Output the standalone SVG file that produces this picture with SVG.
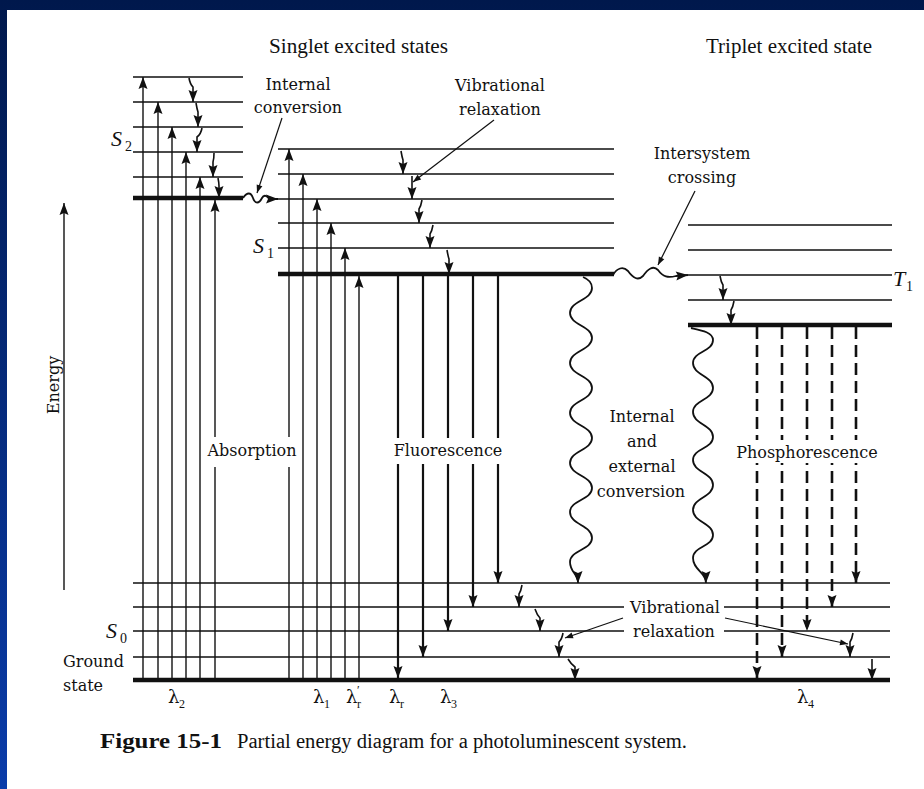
<svg xmlns="http://www.w3.org/2000/svg" width="924" height="789" viewBox="0 0 924 789">
<defs>
<linearGradient id="bg" x1="0" y1="0" x2="0" y2="1">
<stop offset="0" stop-color="#00184c"/>
<stop offset="1" stop-color="#0a3caa"/>
</linearGradient>
<marker id="ah" markerUnits="userSpaceOnUse" markerWidth="14" markerHeight="10" refX="12" refY="4.5" orient="auto" overflow="visible">
<path d="M0,0 L12,4.5 L0,9 L2,4.5 Z" fill="#111"/>
</marker>
<marker id="ahs" markerUnits="userSpaceOnUse" markerWidth="10" markerHeight="8" refX="8" refY="3" orient="auto" overflow="visible">
<path d="M0,0 L8,3 L0,6 Z" fill="#111"/>
</marker>
</defs>
<style>
.lv{stroke:#111;stroke-width:1.6;fill:none}
.th{stroke:#111;stroke-width:4.5;fill:none}
.ab{stroke:#111;stroke-width:1.4;fill:none;marker-end:url(#ah)}
.fl{stroke:#111;stroke-width:2.2;fill:none;marker-end:url(#ah)}
.ph{stroke:#111;stroke-width:2.6;stroke-dasharray:12 6;fill:none;marker-end:url(#ah)}
.rx{stroke:#111;stroke-width:1.6;fill:none;marker-end:url(#ah)}
.wv{stroke:#111;stroke-width:1.8;fill:none;marker-end:url(#ah)}
.ld{stroke:#111;stroke-width:1.2;fill:none;marker-end:url(#ahs)}
.ax{stroke:#111;stroke-width:1.4;fill:none;marker-end:url(#ah)}
text{font-family:"DejaVu Serif","Liberation Serif",serif;fill:#111}
.t{font-size:16px}
.mid{text-anchor:middle}
.h{font-family:"Liberation Serif",serif;font-size:20px}
.it{font-family:"Liberation Serif",serif;font-style:italic;font-size:22px}
.sub{font-family:"Liberation Serif",serif;font-size:14px}
.lam{font-family:"DejaVu Serif",serif;font-size:18px}
.ls{font-family:"Liberation Serif",serif;font-size:12px}
.cap{font-family:"Liberation Serif",serif;font-size:20px}
.capb{font-family:"Liberation Serif",serif;font-size:22px;font-weight:bold}
.wb{fill:#fff}
</style>

<rect x="0" y="0" width="924" height="789" fill="url(#bg)"/>
<rect x="7" y="10" width="917" height="779" fill="#fff"/>

<!-- Energy axis -->
<g id="energy-axis">
<path class="ax" d="M64,590 L64,203"/>
<text class="t mid" transform="translate(59,385) rotate(-90)">Energy</text>
</g>

<!-- Levels -->
<g id="S2">
<path class="lv" d="M133,77H243M133,102H243M133,127H243M133,152H243M133,177H243"/>
<path class="th" d="M133,198H243"/>
<text class="it" x="111" y="146">S</text><text class="sub" x="125" y="151">2</text>
</g>
<g id="S1">
<path class="lv" d="M278,149H614M278,174H614M278,199H614M278,223H614M278,248H614"/>
<path class="th" d="M278,274H614"/>
<text class="it" x="253" y="253">S</text><text class="sub" x="267" y="258">1</text>
</g>
<g id="T1">
<path class="lv" d="M688,225H892M688,250H892M688,275H892M688,300H892"/>
<path class="th" d="M688,325H892"/>
<text class="it" x="893" y="286">T</text><text class="sub" x="906" y="291">1</text>
</g>
<g id="S0">
<path class="lv" d="M133,583H890M133,607H890M133,631H890M133,657H890"/>
<path class="th" d="M133,680H890"/>
<text class="it" x="106" y="638">S</text><text class="sub" x="120" y="643">0</text>
<text class="t" x="63" y="667">Ground</text>
<text class="t" x="63" y="691">state</text>
</g>

<g id="connectors">
<!-- absorption -->
<path class="ab" d="M143,678V77"/>
<path class="ab" d="M158,678V102"/>
<path class="ab" d="M172,678V127"/>
<path class="ab" d="M186,678V152"/>
<path class="ab" d="M200,678V177"/>
<path class="ab" d="M215,678V200"/>
<path class="ab" d="M289,678V149"/>
<path class="ab" d="M303,678V174"/>
<path class="ab" d="M317,678V199"/>
<path class="ab" d="M331,678V223"/>
<path class="ab" d="M345,678V248"/>
<path class="ab" d="M359,678V276"/>
<!-- fluorescence -->
<path class="fl" d="M398,276V678"/>
<path class="fl" d="M423,276V657"/>
<path class="fl" d="M448,276V631"/>
<path class="fl" d="M473,276V607"/>
<path class="fl" d="M498,276V583"/>
<!-- phosphorescence -->
<path class="ph" d="M757,327V678"/>
<path class="ph" d="M782,327V657"/>
<path class="ph" d="M807,327V631"/>
<path class="ph" d="M832,327V607"/>
<path class="ph" d="M856,327V583"/>
<!-- vibrational relaxation small arrows -->
<path class="rx" d="M189,78Q190,84 193,87L193,102"/>
<path class="rx" d="M196,103Q197,109 198,112L198,127"/>
<path class="rx" d="M202,128Q201,134 197,137L197,152"/>
<path class="rx" d="M214,153Q214,159 213,162L213,177"/>
<path class="rx" d="M218,178Q219,183 219,186L219,198"/>
<path class="rx" d="M401,151Q402,157 403,160L403,174"/>
<path class="rx" d="M412,176Q412,181 412,184L412,199"/>
<path class="rx" d="M422,200Q421,206 419,209L419,223"/>
<path class="rx" d="M433,225Q432,231 430,234L430,248"/>
<path class="rx" d="M447,250Q448,256 449,259L449,274"/>
<path class="rx" d="M720,276Q721,282 723,285L723,300"/>
<path class="rx" d="M734,301Q733,307 731,310L731,325"/>
<path class="rx" d="M522,585Q521,591 519,594L519,607"/>
<path class="rx" d="M535,609Q537,615 540,618L540,631"/>
<path class="rx" d="M563,633Q562,639 559,642L559,657"/>
<path class="rx" d="M568,659Q571,664 575,667L575,680"/>
<path class="rx" d="M853,633Q852,639 850,642L850,657"/>
<path class="rx" d="M872,659L872,680"/>
<!-- wavy: internal conversion S2->S1 -->
<path class="wv" d="M243,198C247,192 251,192 253,198C255,204 259,204 262,198C264,194 267,196 270,199L278,199"/>
<!-- wavy: intersystem crossing S1->T1 -->
<path class="wv" d="M613,275C617,268 623,266 628,271C633,278 638,281 643,276C648,269 653,265 658,270C663,277 668,278 676,276L688,275"/>
<!-- wavy: internal/external conversion S1 -> S0 -->
<path class="wv" d="M583,277C588,279 592,283 592,288C592,300 570,301 570,313C570,325 592,326 592,338C592,350 570,351 570,363C570,375 592,376 592,388C592,400 570,401 570,413C570,425 592,426 592,438C592,450 570,451 570,463C570,475 592,476 592,488C592,500 570,500 570,512C570,525 592,525 592,538C592,550 570,550 570,562C570,572 578,574 578,583"/>
<!-- wavy: T1 -> S0 -->
<path class="wv" d="M691,328C700,330 713,332 713,340C713,352 693,351 693,363C693,375 713,376 713,388C713,400 693,400 693,412C693,424 713,425 713,437C713,449 693,448 693,460C693,472 713,473 713,485C713,497 693,498 693,510C693,522 713,523 713,535C713,547 693,546 693,558C693,570 706,572 706,583"/>
<!-- leaders -->
<path class="ld" d="M282,118L257,193"/>
<path class="ld" d="M494,120L413,182"/>
<path class="ld" d="M695,191L658,265"/>
<path class="ld" d="M623,618L565,638"/>
<path class="ld" d="M725,618L848,644"/>
</g>

<!-- label backgrounds -->
<rect class="wb" x="204" y="437" width="95" height="30"/>
<rect class="wb" x="392" y="438" width="112" height="26"/>
<rect class="wb" x="734" y="440" width="146" height="23"/>
<rect class="wb" x="624" y="597" width="100" height="44"/>

<g id="labels">
<text class="h" x="269" y="53" textLength="179" lengthAdjust="spacingAndGlyphs">Singlet excited states</text>
<text class="h" x="706" y="53" textLength="166" lengthAdjust="spacingAndGlyphs">Triplet excited state</text>
<text class="t mid" x="298" y="90">Internal</text>
<text class="t mid" x="298" y="113">conversion</text>
<text class="t mid" x="500" y="91">Vibrational</text>
<text class="t mid" x="500" y="115">relaxation</text>
<text class="t mid" x="702" y="159">Intersystem</text>
<text class="t mid" x="702" y="183">crossing</text>
<text class="t mid" x="252" y="456">Absorption</text>
<text class="t mid" x="448" y="456">Fluorescence</text>
<text class="t mid" x="642" y="422">Internal</text>
<text class="t mid" x="642" y="447">and</text>
<text class="t mid" x="642" y="472">external</text>
<text class="t mid" x="641" y="497">conversion</text>
<text class="t mid" x="807" y="458">Phosphorescence</text>
<text class="t mid" x="675" y="613">Vibrational</text>
<text class="t mid" x="674" y="637">relaxation</text>
</g>

<g id="wavelengths">
<text class="lam" x="168" y="703">λ</text><text class="ls" x="179" y="708">2</text>
<text class="lam" x="313" y="703">λ</text><text class="ls" x="324" y="708">1</text>
<text class="lam" x="346" y="703">λ</text><text class="ls" x="357" y="694">′</text><text class="ls" x="357" y="708">r</text>
<text class="lam" x="389" y="703">λ</text><text class="ls" x="400" y="708">r</text>
<text class="lam" x="440" y="703">λ</text><text class="ls" x="451" y="708">3</text>
<text class="lam" x="797" y="703">λ</text><text class="ls" x="808" y="708">4</text>
</g>

<g id="caption">
<text class="capb" x="100" y="748" textLength="122" lengthAdjust="spacingAndGlyphs">Figure 15-1</text>
<text class="cap" x="237" y="748" textLength="450" lengthAdjust="spacingAndGlyphs">Partial energy diagram for a photoluminescent system.</text>
</g>
</svg>
